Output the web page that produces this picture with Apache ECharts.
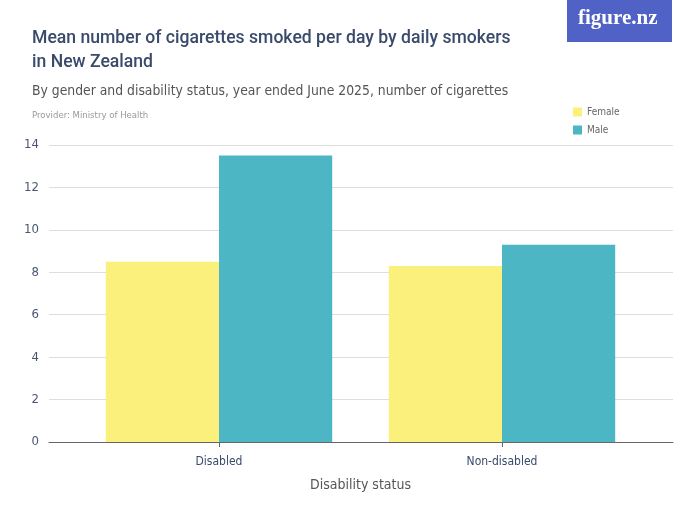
<!DOCTYPE html>
<html>
<head>
<meta charset="utf-8">
<script src="https://cdn.jsdelivr.net/npm/echarts@6/dist/echarts.min.js"></script>
<style>
  html, body { margin: 0; padding: 0; background: #fff; }
  #chart { width: 700px; height: 525px; }
</style>
</head>
<body>
<div id="chart"></div>
<script>
const categories = ['Disabled', 'Non-disabled'];
const femaleValues = [8.5, 8.3];
const maleValues = [13.5, 9.3];
const yTicks = { min: 0, max: 14, interval: 2 };

const chart = echarts.init(document.getElementById('chart'));

const narrow = '"DejaVu Sans Condensed", "Liberation Sans Narrow", sans-serif';

const option = {
  backgroundColor: '#ffffff',
  animation: false,
  title: [
    {
      text: 'Mean number of cigarettes smoked per day by daily smokers\nin New Zealand',
      left: 27, top: 22,
      textStyle: { fontFamily: 'Roboto', fontWeight: 500, fontSize: 17.6, color: '#3a4a6b', lineHeight: 24 }
    },
    {
      text: 'By gender and disability status, year ended June 2025, number of cigarettes',
      left: 27, top: 79,
      textStyle: { fontFamily: narrow, fontWeight: 'normal', fontSize: 13.8, color: '#555' }
    },
    {
      text: 'Provider: Ministry of Health',
      left: 27, top: 106,
      textStyle: { fontFamily: narrow, fontWeight: 'normal', fontSize: 9.5, color: '#999' }
    }
  ],
  legend: {
    orient: 'vertical',
    left: 568, top: 102,
    itemWidth: 9, itemHeight: 9, itemGap: 8,
    icon: 'rect',
    textStyle: { fontFamily: narrow, fontSize: 10, color: '#666' },
    data: ['Female', 'Male']
  },
  graphic: [
    { type: 'rect', shape: { x: 567, y: 0, width: 105, height: 42 }, style: { fill: '#5162c6' } },
    { type: 'text', left: 578, top: 8, style: { text: 'figure.nz', fill: '#fff', font: 'bold 21px "Liberation Serif", serif' } }
  ],
  grid: [
    { left: 49, right: 27, top: 145, bottom: 83 },
    { left: 77.5, right: 56.5, top: 145, bottom: 83 }
  ],
  xAxis: [
    {
      gridIndex: 0, type: 'value', min: 0, max: 1, show: true,
      axisLine: { show: true, onZero: false, lineStyle: { color: '#666', width: 1 } },
      axisTick: { show: false }, axisLabel: { show: false }, splitLine: { show: false }
    },
    {
      gridIndex: 1, type: 'category', data: categories,
      name: 'Disability status', nameLocation: 'middle', nameGap: 36,
      nameTextStyle: { fontFamily: narrow, fontSize: 14, color: '#555' },
      axisLine: { show: false },
      axisTick: { show: true, alignWithLabel: true, length: 5, lineStyle: { color: '#666' } },
      axisLabel: { fontFamily: narrow, fontSize: 12, color: '#3a4a6b', margin: 14 }
    }
  ],
  yAxis: [
    {
      gridIndex: 0, type: 'value', min: yTicks.min, max: yTicks.max, interval: yTicks.interval,
      axisLine: { show: false }, axisTick: { show: false },
      axisLabel: { fontFamily: narrow, fontSize: 13, color: '#4a5570', margin: 10 },
      splitLine: { lineStyle: { color: '#dedede', width: 1 } }
    },
    {
      gridIndex: 1, type: 'value', min: yTicks.min, max: yTicks.max, interval: yTicks.interval,
      show: false, splitLine: { show: false }
    }
  ],
  series: [
    {
      name: 'Female', type: 'bar', xAxisIndex: 1, yAxisIndex: 1,
      data: femaleValues, barGap: 0, barCategoryGap: '20%',
      itemStyle: { color: '#faf07b' }
    },
    {
      name: 'Male', type: 'bar', xAxisIndex: 1, yAxisIndex: 1,
      data: maleValues, barGap: 0, barCategoryGap: '20%',
      itemStyle: { color: '#4db6c4' }
    }
  ]
};

chart.setOption(option);
</script>
</body>
</html>
